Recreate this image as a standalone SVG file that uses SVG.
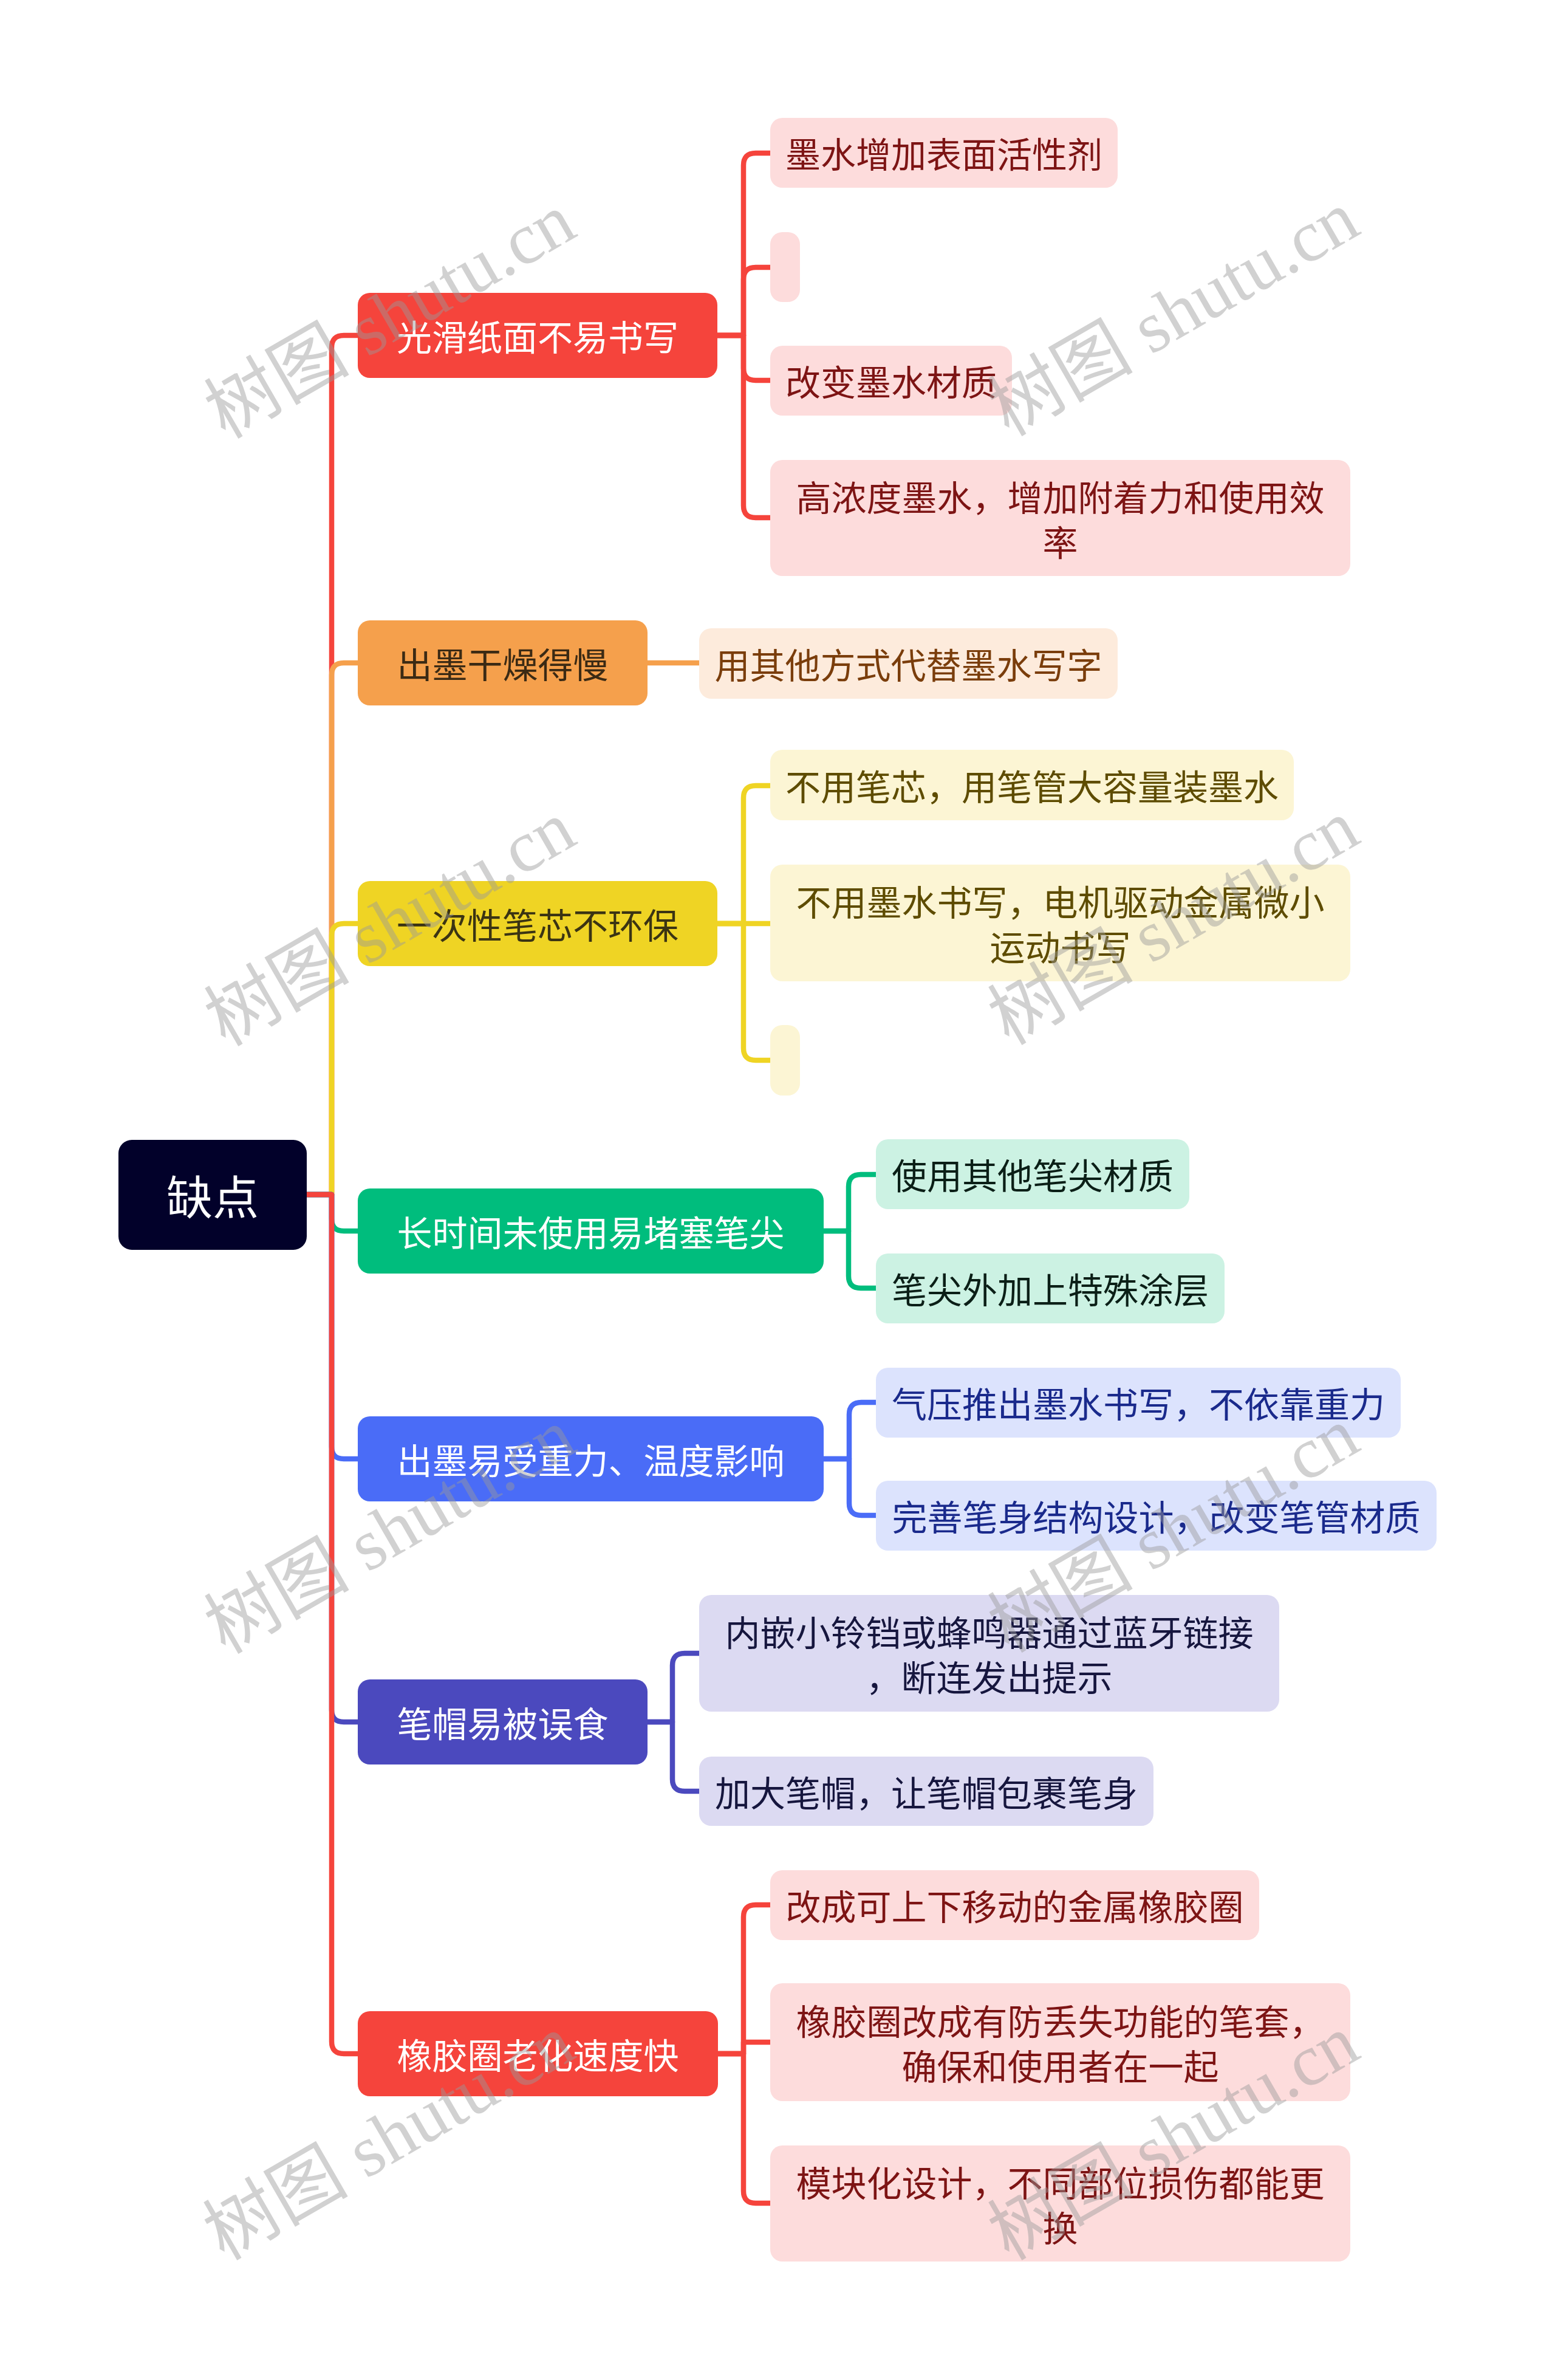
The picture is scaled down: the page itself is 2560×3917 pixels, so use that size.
<svg xmlns="http://www.w3.org/2000/svg" width="2560" height="3917" viewBox="0 0 2560 3917">
<style>
text{font-family:"Noto Sans CJK SC","Noto Sans",sans-serif;text-anchor:middle;dominant-baseline:central}
.t1{font-size:58px}
.t2{font-size:58px}
.c{fill:none;stroke-width:8.5;stroke-linejoin:round}
.wm{font-family:"Liberation Serif","Noto Sans CJK SC",serif;font-size:120px;fill:#9a9a9a;opacity:0.45}
</style>
<rect width="2560" height="3917" fill="#ffffff"/>
<g id="connectors">
<path class="c" stroke="#F5443C" d="M505 1966H546V572Q546 552 566 552H589"/>
<path class="c" stroke="#F5A04C" d="M505 1966H546V1111Q546 1091 566 1091H589"/>
<path class="c" stroke="#EFD424" d="M505 1966H546V1540Q546 1520 566 1520H589"/>
<path class="c" stroke="#00BD7D" d="M505 1966H546V2006Q546 2026 566 2026H589"/>
<path class="c" stroke="#4A6CF7" d="M505 1966H546V2381Q546 2401 566 2401H589"/>
<path class="c" stroke="#4B49BE" d="M505 1966H546V2814Q546 2834 566 2834H589"/>
<path class="c" stroke="#F5443C" d="M505 1966H546V3360Q546 3380 566 3380H589"/>
<path class="c" stroke="#F5443C" d="M1181 552H1224V272Q1224 252 1244 252H1268"/>
<path class="c" stroke="#F5443C" d="M1181 552H1224V460Q1224 440 1244 440H1268"/>
<path class="c" stroke="#F5443C" d="M1181 552H1224V606Q1224 626 1244 626H1268"/>
<path class="c" stroke="#F5443C" d="M1181 552H1224V832Q1224 852 1244 852H1268"/>
<path class="c" stroke="#F5A04C" d="M1066 1091H1151"/>
<path class="c" stroke="#EFD424" d="M1181 1520H1224V1313Q1224 1293 1244 1293H1268"/>
<path class="c" stroke="#EFD424" d="M1181 1520H1268"/>
<path class="c" stroke="#EFD424" d="M1181 1520H1224V1725Q1224 1745 1244 1745H1268"/>
<path class="c" stroke="#00BD7D" d="M1356 2026H1397V1953Q1397 1933 1417 1933H1442"/>
<path class="c" stroke="#00BD7D" d="M1356 2026H1397V2100Q1397 2120 1417 2120H1442"/>
<path class="c" stroke="#4A6CF7" d="M1356 2401H1398V2328Q1398 2308 1418 2308H1442"/>
<path class="c" stroke="#4A6CF7" d="M1356 2401H1398V2474Q1398 2494 1418 2494H1442"/>
<path class="c" stroke="#4B49BE" d="M1066 2834H1107V2741Q1107 2721 1127 2721H1151"/>
<path class="c" stroke="#4B49BE" d="M1066 2834H1107V2928Q1107 2948 1127 2948H1151"/>
<path class="c" stroke="#F5443C" d="M1182 3380H1224V3155Q1224 3135 1244 3135H1268"/>
<path class="c" stroke="#F5443C" d="M1182 3380H1224V3361H1268"/>
<path class="c" stroke="#F5443C" d="M1182 3380H1224V3606Q1224 3626 1244 3626H1268"/>
</g>
<g id="root"><rect x="195" y="1876" width="310" height="181" rx="22" fill="#02012A"/><text x="350" y="1966" font-size="76" fill="#ffffff">缺点</text></g>

<g id="n1"><rect x="589" y="482" width="592" height="140" rx="20" fill="#F5443C"/><text class="t1" x="885" y="552" fill="#ffffff">光滑纸面不易书写</text></g>
<g id="n1a"><rect x="1268" y="194" width="572" height="115" rx="20" fill="#FDDCDC"/><text class="t2" x="1554" y="251" fill="#7D1414">墨水增加表面活性剂</text></g>
<g id="n1b"><rect x="1268" y="382" width="49" height="115" rx="20" fill="#FDDCDC"/></g>
<g id="n1c"><rect x="1268" y="569" width="398" height="115" rx="20" fill="#FDDCDC"/><text class="t2" x="1467" y="626" fill="#7D1414">改变墨水材质</text></g>
<g id="n1d"><rect x="1268" y="757" width="955" height="191" rx="20" fill="#FDDCDC"/><text class="t2" x="1745.5" y="816" fill="#7D1414">高浓度墨水，增加附着力和使用效</text><text class="t2" x="1745.5" y="890" fill="#7D1414">率</text></g>

<g id="n2"><rect x="589" y="1021" width="477" height="140" rx="20" fill="#F5A04C"/><text class="t1" x="827.5" y="1091" fill="#3B2A14">出墨干燥得慢</text></g>
<g id="n2a"><rect x="1151" y="1034" width="689" height="116" rx="20" fill="#FDEBDC"/><text class="t2" x="1495.5" y="1092" fill="#7A3D0B">用其他方式代替墨水写字</text></g>

<g id="n3"><rect x="589" y="1450" width="592" height="140" rx="20" fill="#EFD424"/><text class="t1" x="885" y="1520" fill="#3B3413">一次性笔芯不环保</text></g>
<g id="n3a"><rect x="1268" y="1234" width="862" height="116" rx="20" fill="#FCF5D4"/><text class="t2" x="1699" y="1292" fill="#5E4C00">不用笔芯，用笔管大容量装墨水</text></g>
<g id="n3b"><rect x="1268" y="1423" width="955" height="192" rx="20" fill="#FCF5D4"/><text class="t2" x="1745.5" y="1482" fill="#5E4C00">不用墨水书写，电机驱动金属微小</text><text class="t2" x="1745.5" y="1556" fill="#5E4C00">运动书写</text></g>
<g id="n3c"><rect x="1268" y="1687" width="49" height="116" rx="20" fill="#FCF5D4"/></g>

<g id="n4"><rect x="589" y="1956" width="767" height="140" rx="20" fill="#00BD7D"/><text class="t1" x="972.5" y="2026" fill="#ffffff">长时间未使用易堵塞笔尖</text></g>
<g id="n4a"><rect x="1442" y="1875" width="516" height="115" rx="20" fill="#CCF2E3"/><text class="t2" x="1700" y="1932" fill="#0B1F17">使用其他笔尖材质</text></g>
<g id="n4b"><rect x="1442" y="2063" width="574" height="115" rx="20" fill="#CCF2E3"/><text class="t2" x="1729" y="2120" fill="#0B1F17">笔尖外加上特殊涂层</text></g>

<g id="n5"><rect x="589" y="2331" width="767" height="140" rx="20" fill="#4A6CF7"/><text class="t1" x="972.5" y="2401" fill="#ffffff">出墨易受重力、温度影响</text></g>
<g id="n5a"><rect x="1442" y="2251" width="864" height="115" rx="20" fill="#DCE3FD"/><text class="t2" x="1874" y="2308" fill="#1A2A8C">气压推出墨水书写，不依靠重力</text></g>
<g id="n5b"><rect x="1442" y="2437" width="923" height="115" rx="20" fill="#DCE3FD"/><text class="t2" x="1903.5" y="2494" fill="#1A2A8C">完善笔身结构设计，改变笔管材质</text></g>

<g id="n6"><rect x="589" y="2764" width="477" height="140" rx="20" fill="#4B49BE"/><text class="t1" x="827.5" y="2834" fill="#ffffff">笔帽易被误食</text></g>
<g id="n6a"><rect x="1151" y="2625" width="955" height="192" rx="20" fill="#DCDAF2"/><text class="t2" x="1628.5" y="2684" fill="#16163E">内嵌小铃铛或蜂鸣器通过蓝牙链接</text><text class="t2" x="1628.5" y="2758" fill="#16163E">，断连发出提示</text></g>
<g id="n6b"><rect x="1151" y="2891" width="748" height="114" rx="20" fill="#DCDAF2"/><text class="t2" x="1525" y="2948" fill="#16163E">加大笔帽，让笔帽包裹笔身</text></g>

<g id="n7"><rect x="589" y="3310" width="593" height="140" rx="20" fill="#F5443C"/><text class="t1" x="885.5" y="3380" fill="#ffffff">橡胶圈老化速度快</text></g>
<g id="n7a"><rect x="1268" y="3078" width="805" height="115" rx="20" fill="#FDDCDC"/><text class="t2" x="1670.5" y="3135" fill="#7D1414">改成可上下移动的金属橡胶圈</text></g>
<g id="n7b"><rect x="1268" y="3264" width="955" height="194" rx="20" fill="#FDDCDC"/><text class="t2" x="1745.5" y="3324" fill="#7D1414">橡胶圈改成有防丢失功能的笔套，</text><text class="t2" x="1745.5" y="3398" fill="#7D1414">确保和使用者在一起</text></g>
<g id="n7c"><rect x="1268" y="3531" width="955" height="191" rx="20" fill="#FDDCDC"/><text class="t2" x="1745.5" y="3590" fill="#7D1414">模块化设计，不同部位损伤都能更</text><text class="t2" x="1745.5" y="3664" fill="#7D1414">换</text></g>

<g id="watermarks">
<text class="wm" transform="translate(642 520) rotate(-30)">树图 shutu.cn</text>
<text class="wm" transform="translate(1932 516) rotate(-30)">树图 shutu.cn</text>
<text class="wm" transform="translate(642 1520) rotate(-30)">树图 shutu.cn</text>
<text class="wm" transform="translate(1932 1518) rotate(-30)">树图 shutu.cn</text>
<text class="wm" transform="translate(642 2520) rotate(-30)">树图 shutu.cn</text>
<text class="wm" transform="translate(1932 2518) rotate(-30)">树图 shutu.cn</text>
<text class="wm" transform="translate(640 3518) rotate(-30)">树图 shutu.cn</text>
<text class="wm" transform="translate(1932 3518) rotate(-30)">树图 shutu.cn</text>
</g>
</svg>
